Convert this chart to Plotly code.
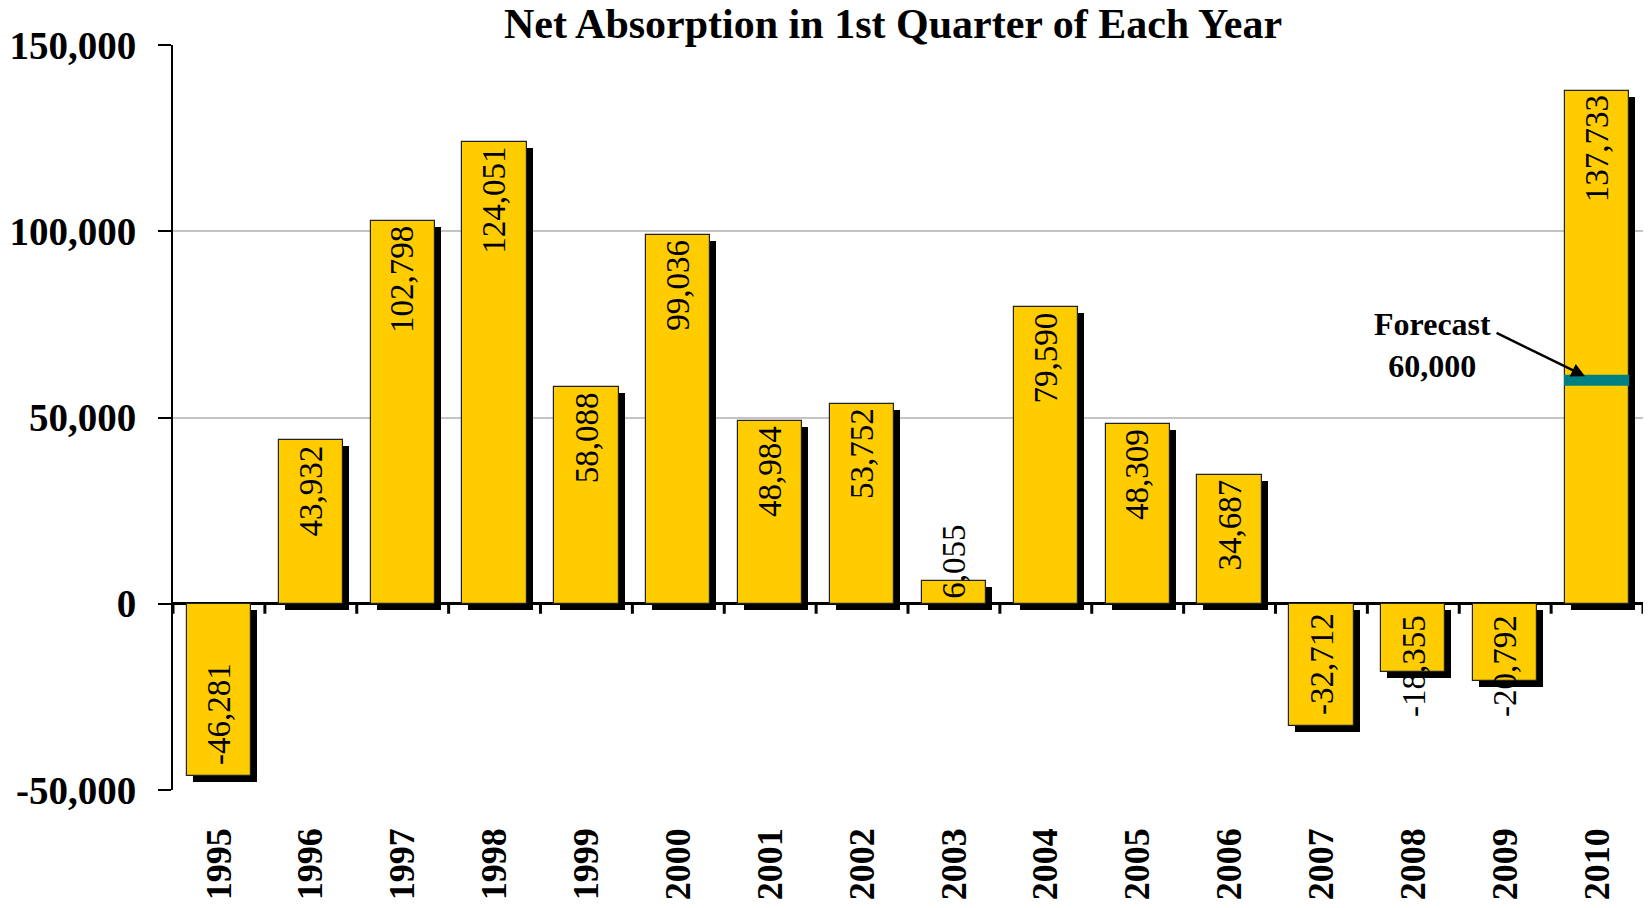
import plotly.graph_objects as go

# Net absorption, first quarter of each year
years = ["1995", "1996", "1997", "1998", "1999", "2000", "2001", "2002",
         "2003", "2004", "2005", "2006", "2007", "2008", "2009", "2010"]
absorption = [-46281, 43932, 102798, 124051, 58088, 99036, 48984, 53752,
              6055, 79590, 48309, 34687, -32712, -18355, -20792, 137733]
forecast_year = "2010"
forecast_value = 60000

y_tickvals = [-50000, 0, 50000, 100000, 150000]
y_ticktext = ["-50,000", "0", "50,000", "100,000", "150,000"]

W, H = 1652, 908
M_L, M_R, M_T, M_B = 173, 9, 45, 118
Y_MIN, Y_MAX = -50000, 150000
FONT = "Liberation Serif"
GOLD = "#FFCC00"
TEAL = "#008080"

plot_w = W - M_L - M_R
plot_h = H - M_T - M_B
px_per_unit = plot_h / (Y_MAX - Y_MIN)
px_per_cat = plot_w / len(years)

BAR_W = 0.70
shadow_dx = 6 / px_per_cat          # drop shadow offset, category units
shadow_dy = 6 / px_per_unit         # drop shadow offset, value units

fig = go.Figure()

# drop shadow behind every bar
fig.add_trace(go.Bar(
    x=years, y=absorption, base=[-shadow_dy] * len(absorption),
    width=BAR_W, offset=-BAR_W / 2 + shadow_dx,
    marker=dict(color="black", line=dict(width=0)),
    hoverinfo="skip", showlegend=False,
))
# the bars
fig.add_trace(go.Bar(
    x=years, y=absorption,
    width=BAR_W, offset=-BAR_W / 2,
    marker=dict(color=GOLD, line=dict(color="#222222", width=1.2)),
    showlegend=False,
))

# value labels: rotated, at the inside end; moved to the base when too long
LABEL_SIZE = 33
PAD_POS = 3
PAD_NEG = 9


def label_px(s):
    w = 0.0
    for ch in s:
        w += 0.25 if ch == "," else (0.333 if ch == "-" else 0.5)
    return w * LABEL_SIZE


annotations = []
for i, v in enumerate(absorption):
    txt = f"{v:,}"
    fits = abs(v) * px_per_unit >= label_px(txt) + 16
    if v >= 0:
        if fits:
            y, ya, ys = v, "top", -PAD_POS
        else:
            y, ya, ys = 0, "bottom", PAD_POS
    else:
        if fits:
            y, ya, ys = v, "bottom", PAD_NEG
        else:
            y, ya, ys = 0, "top", -PAD_NEG
    annotations.append(dict(
        x=i, y=y, xref="x", yref="y", text=txt, textangle=-90,
        showarrow=False, xanchor="center", yanchor=ya, yshift=ys,
        font=dict(family=FONT, size=LABEL_SIZE, color="black"),
    ))

# forecast callout
fi = years.index(forecast_year)
annotations.append(dict(
    x=fi, y=forecast_value, xref="x", yref="y",
    text="Forecast<br>60,000", showarrow=False,
    xanchor="center", yanchor="middle", xshift=-165, yshift=35,
    font=dict(family=FONT, size=32, color="black", weight="bold"),
))
annotations.append(dict(
    x=fi, y=forecast_value, xref="x", yref="y",
    text="", showarrow=True, arrowhead=2, arrowsize=1.1, arrowwidth=2.5,
    arrowcolor="black", xshift=-12, yshift=4, ax=-90, ay=-44,
))

shapes = []
shapes.append(dict(
    type="line", xref="x", yref="y",
    x0=fi - BAR_W / 2 - 0.01, x1=fi + BAR_W / 2,
    y0=forecast_value, y1=forecast_value,
    line=dict(color=TEAL, width=11), layer="above",
))
# category tick marks hanging from the zero line
for i in range(len(years) + 1):
    shapes.append(dict(
        type="line", xref="x", yref="y", ysizemode="pixel", yanchor=0,
        x0=i - 0.5, x1=i - 0.5, y0=0, y1=-10,
        line=dict(color="black", width=3), layer="above",
    ))

fig.update_layout(
    width=W, height=H,
    margin=dict(l=M_L, r=M_R, t=M_T, b=M_B, pad=0),
    paper_bgcolor="white", plot_bgcolor="white",
    barmode="overlay", bargap=0,
    title=dict(
        text="Net Absorption in 1st Quarter of Each Year",
        x=893 / W, xref="container", xanchor="center",
        y=1 - 23 / H, yref="container", yanchor="middle",
        font=dict(family=FONT, size=42, color="black", weight="bold"),
    ),
    xaxis=dict(
        type="category", range=[-0.5, len(years) - 0.5],
        showline=False, showgrid=False, zeroline=False,
        ticks="", tickangle=-90, ticklabelstandoff=30,
        tickfont=dict(family=FONT, size=36, color="black", weight="bold"),
    ),
    yaxis=dict(
        range=[Y_MIN, Y_MAX], tickvals=y_tickvals, ticktext=y_ticktext,
        showline=True, linecolor="black", linewidth=2,
        ticks="outside", ticklen=13, tickwidth=2, tickcolor="black",
        ticklabelstandoff=14,
        showgrid=True, gridcolor="#C4C4C4", gridwidth=2,
        zeroline=True, zerolinecolor="black", zerolinewidth=3,
        tickfont=dict(family=FONT, size=39, color="black", weight="bold"),
        layer="above traces",
    ),
    annotations=annotations, shapes=shapes,
)

fig.write_html("out.html")
